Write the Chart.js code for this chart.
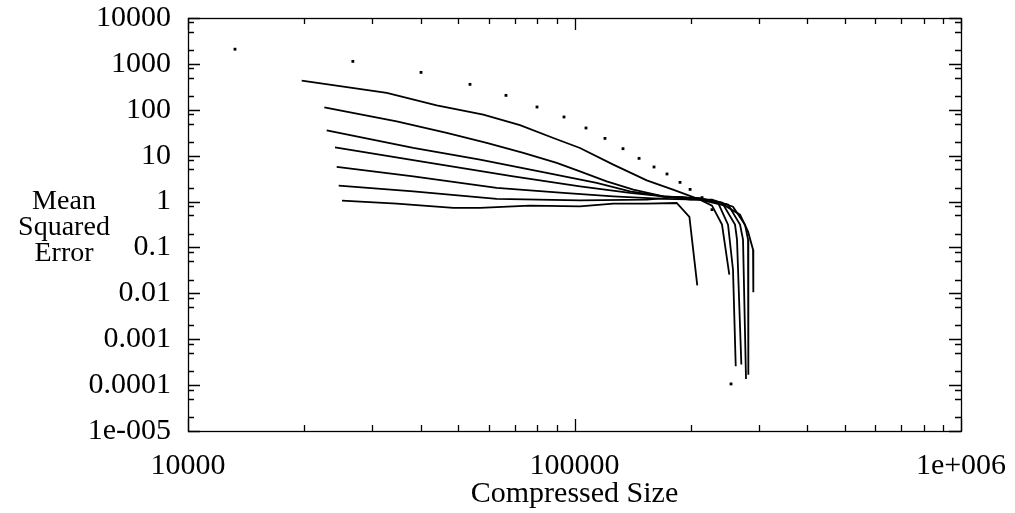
<!DOCTYPE html>
<html>
<head>
<meta charset="utf-8">
<title>Mean Squared Error vs Compressed Size</title>
<script src="https://cdn.jsdelivr.net/npm/chart.js@4.4.0/dist/chart.umd.min.js"></script>
<style>
    html, body { margin: 0; padding: 0; background: #fff; }
    #wrap { width: 1015px; height: 513px; }
</style>
</head>
<body>
<div id="wrap"><canvas id="chart" width="1015" height="513"></canvas></div>
<script>
// Tick labels (as printed on the original plot)
const xTickValues = [1e4, 1e5, 1e6];
const xTickLabels = ['10000', '100000', '1e+006'];
const yTickValues = [1e-5, 1e-4, 1e-3, 1e-2, 1e-1, 1, 10, 100, 1000, 10000];
const yTickLabels = ['1e-005', '0.0001', '0.001', '0.01', '0.1', '1', '10', '100', '1000', '10000'];
const yTitleLines = ['Mean', 'Squared', 'Error'];
const xTitle = 'Compressed Size';

// Dotted series
const dotSizes = [13230, 26700, 40080, 53650, 66480, 79980, 93930, 107100, 119900, 133500,
    146900, 160600, 173500, 187500, 199100, 213800, 226900, 254100];
const dotErrors = [2090, 1134, 653, 358, 206, 115, 69.7, 40.1, 23.8, 14.2,
    8.73, 5.67, 3.99, 2.62, 1.84, 1.22, 0.667, 0.000106];

// Solid curves, top to bottom
const curve1Sizes = [19690, 32680, 44010, 58080, 72270, 88140, 103300, 126000, 153800, 179800, 211200, 245200, 268100, 281200, 289700, 290200];
const curve1Errors = [430.5, 232.3, 124.7, 78.2, 46.2, 24.3, 14.7, 6.37, 2.90, 1.82, 1.10, 0.815, 0.518, 0.221, 0.0894, 0.0105];

const curve2Sizes = [22530, 34670, 46700, 59260, 73710, 89950, 103300, 121100, 142000, 169800, 199100, 226900, 257100, 276200, 281200, 281700];
const curve2Errors = [112.8, 55.9, 31.2, 18.9, 11.5, 6.93, 4.55, 2.75, 1.82, 1.30, 1.10, 1.10, 0.774, 0.314, 0.148, 0.000169];

const curve3Sizes = [22850, 38270, 56950, 84760, 114100, 139200, 169800, 211200, 249600, 268100, 272900, 277800];
const curve3Errors = [35.6, 14.7, 8.18, 4.20, 2.54, 1.67, 1.30, 1.19, 0.856, 0.314, 0.148, 0.000136];

const curve4Sizes = [24010, 42280, 69440, 103300, 139200, 169800, 211200, 240800, 260200, 263300, 270200];
const curve4Errors = [15.2, 6.93, 3.54, 2.14, 1.54, 1.30, 1.16, 0.946, 0.314, 0.148, 0.00028];

const curve5Sizes = [24250, 38270, 62910, 93540, 126000, 169800, 211200, 235100, 249600, 257100, 261300];
const curve5Errors = [5.67, 3.54, 1.98, 1.54, 1.30, 1.14, 1.10, 0.946, 0.314, 0.0327, 0.000257];

const curve6Sizes = [24540, 38270, 62910, 103300, 153800, 187500, 211200, 226900, 240800, 251500];
const curve6Errors = [2.22, 1.67, 1.14, 1.06, 1.10, 1.26, 1.10, 0.815, 0.314, 0.0255];

const curve7Sizes = [25030, 34670, 48570, 56950, 76700, 103300, 126000, 153800, 183800, 198300, 207800];
const curve7Errors = [1.05, 0.90, 0.726, 0.726, 0.815, 0.785, 0.90, 0.90, 0.931, 0.462, 0.0149];

const curves = [
    [curve1Sizes, curve1Errors], [curve2Sizes, curve2Errors], [curve3Sizes, curve3Errors],
    [curve4Sizes, curve4Errors], [curve5Sizes, curve5Errors], [curve6Sizes, curve6Errors],
    [curve7Sizes, curve7Errors]
];

const FONT = '"Liberation Serif", "DejaVu Serif", serif';
const FONT_SIZE = 30;

function toPoints(xs, ys) {
    return xs.map((x, i) => ({ x: x, y: ys[i] }));
}

const datasets = curves.map(([xs, ys]) => ({
    data: toPoints(xs, ys),
    showLine: true,
    borderColor: '#000',
    borderWidth: 1.8,
    pointRadius: 0,
    tension: 0
}));

datasets.push({
    data: toPoints(dotSizes, dotErrors),
    showLine: false,
    pointStyle: 'rect',
    pointRadius: 2,
    pointBorderWidth: 0,
    backgroundColor: '#000',
    borderColor: '#000'
});

// Frame, inward ticks on all four sides, and the three-line y title
const framePlugin = {
    id: 'frame',
    afterDraw(chart) {
        const ctx = chart.ctx;
        const area = chart.chartArea;
        const xs = chart.scales.x;
        const ys = chart.scales.y;
        ctx.save();
        ctx.strokeStyle = '#000';
        ctx.lineWidth = 1.3;

        // x ticks (bottom and top)
        for (let e = 4; e <= 6; e++) {
            const steps = e < 6 ? [1, 2, 3, 4, 5, 6, 7, 8, 9] : [1];
            steps.forEach(k => {
                const px = Math.round(xs.getPixelForValue(k * Math.pow(10, e))) + 0.5;
                const len = k === 1 ? 12 : 6;
                ctx.beginPath();
                ctx.moveTo(px, area.bottom);
                ctx.lineTo(px, area.bottom - len);
                ctx.moveTo(px, area.top);
                ctx.lineTo(px, area.top + len);
                ctx.stroke();
            });
        }
        // y ticks (left and right)
        for (let e = -5; e <= 4; e++) {
            const steps = e < 4 ? [1, 2, 5, 8] : [1];
            steps.forEach(k => {
                const py = Math.round(ys.getPixelForValue(k * Math.pow(10, e))) + 0.5;
                const len = k === 1 ? 12 : 6;
                ctx.beginPath();
                ctx.moveTo(area.left, py);
                ctx.lineTo(area.left + len, py);
                ctx.moveTo(area.right, py);
                ctx.lineTo(area.right - len, py);
                ctx.stroke();
            });
        }

        ctx.strokeRect(Math.round(area.left) + 0.5, Math.round(area.top) + 0.5,
            Math.round(area.right - area.left), Math.round(area.bottom - area.top));

        // y axis title, horizontal, three lines
        ctx.fillStyle = '#000';
        ctx.font = '28px ' + FONT;
        ctx.textAlign = 'center';
        ctx.textBaseline = 'alphabetic';
        yTitleLines.forEach((t, i) => {
            ctx.fillText(t, 64, 209 + i * 26);
        });
        ctx.restore();
    }
};

new Chart(document.getElementById('chart'), {
    type: 'scatter',
    data: { datasets: datasets },
    options: {
        responsive: false,
        animation: false,
        devicePixelRatio: 1,
        layout: { padding: { top: 18, right: 54, left: 0, bottom: 0 } },
        plugins: {
            legend: { display: false },
            tooltip: { enabled: false }
        },
        scales: {
            x: {
                type: 'logarithmic',
                min: 1e4,
                max: 1e6,
                grid: { display: false, drawTicks: false },
                border: { display: false },
                afterBuildTicks: scale => { scale.ticks = xTickValues.map(v => ({ value: v })); },
                afterFit: scale => {
                    scale.height = 82;
                    scale.paddingLeft = 0;
                    scale.paddingRight = 0;
                },
                ticks: {
                    autoSkip: false,
                    maxRotation: 0,
                    padding: 17,
                    color: '#000',
                    font: { family: FONT, size: FONT_SIZE },
                    callback: (v, i) => xTickLabels[i]
                },
                title: {
                    display: true,
                    text: xTitle,
                    color: '#000',
                    font: { family: FONT, size: FONT_SIZE },
                    padding: { top: 0, bottom: 1 }
                }
            },
            y: {
                type: 'logarithmic',
                min: 1e-5,
                max: 1e4,
                grid: { display: false, drawTicks: false },
                border: { display: false },
                afterBuildTicks: scale => { scale.ticks = yTickValues.map(v => ({ value: v })); },
                afterFit: scale => {
                    scale.width = 188;
                    scale.paddingTop = 0;
                    scale.paddingBottom = 0;
                },
                ticks: {
                    autoSkip: false,
                    padding: 17,
                    color: '#000',
                    font: { family: FONT, size: FONT_SIZE },
                    callback: (v, i) => yTickLabels[i]
                }
            }
        }
    },
    plugins: [framePlugin]
});
</script>
</body>
</html>
